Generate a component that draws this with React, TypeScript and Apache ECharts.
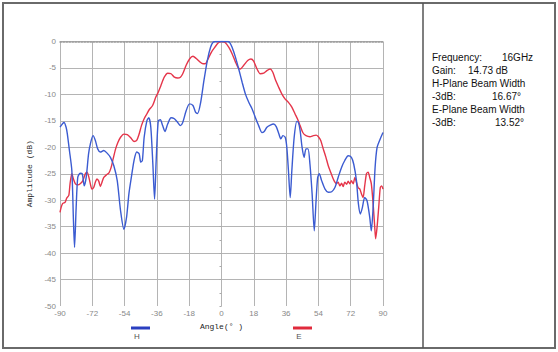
import React, { useEffect, useRef } from "react";
import * as echarts from "echarts";

const xTicks = [-90, -72, -54, -36, -18, 0, 18, 36, 54, 72, 90];

const hAngles = [
  -90, -88.5, -87.75, -86.6, -85.9, -84.75, -83.4, -82.5, -81.9, -81, -80.1, -78.75, -77.6, -76.5, -75.4,
  -74.1, -73.1, -71.6, -70.3, -69, -67.5, -65.6, -63.75, -61.9, -60, -58.1, -56.25, -54.4, -52.9, -51.6,
  -50.25, -48.75, -47.25, -45.9, -45, -44.1, -43.1, -41.6, -40.5, -39.4, -38.25, -37.3, -36.4, -35.25,
  -34.1, -32.8, -31.5, -30, -28.1, -26.25, -24.4, -22.9, -21.6, -19.7, -17.8, -15.9, -14.4, -13.3, -11.6,
  -9.8, -7.9, -6.1, -4.6, -3, 0, 3.5, 4.6, 5.9, 7.8, 9.6, 11.5, 13.3, 15.2, 17, 18.8, 20.7, 22.5, 23.8,
  25.3, 27.2, 29, 30.5, 32, 33.1, 34.2, 35.5, 36.4, 37.3, 38.3, 39.2, 40.5, 42, 42.9, 43.8, 44.9, 46,
  47.1, 48.2, 49.3, 50.5, 51.7, 52.7, 53.6, 54.5, 55.8, 57.7, 59.5, 61.4, 63.2, 65, 66.9, 68.7, 70.6,
  72.4, 73.7, 75.2, 76.3, 77.4, 78.5, 79.8, 81.1, 82.6, 83.5, 84.5, 85.6, 86.7, 88.1, 90,
];
const hAmps = [
  -16.2, -15.5, -15.3, -16.2, -17.5, -20.6, -24.4, -33.9, -38.9, -31.4, -25.7, -24.9, -25, -27.3, -25.7,
  -21.3, -19.4, -17.8, -18.7, -20.3, -20.9, -20.6, -21.1, -21.9, -23.5, -26.3, -32, -35.5, -33.2, -28.8,
  -25.7, -22.5, -20.9, -21.2, -22.8, -22.5, -18.1, -15, -14.4, -16.2, -23.2, -29.8, -22.5, -15,
  -14.8, -15.9, -17, -15.6, -14.4, -14.6, -15.3, -15.9, -15.3, -13.1, -11.8, -12.1, -13.4, -13.6, -11.5,
  -7.4, -3.6, -1.1, -0.1, 0, 0, 0, -0.2, -1.1, -3, -5.2, -7.7, -9.9, -11.5, -12.7, -14.3, -15.9, -17.2, -17,
  -16.2, -15.8, -15.6, -16.1, -17.5, -18.4, -17.8, -18.1, -20, -24.4, -29.5, -24.4, -18.1, -15.1, -15.3, -16.8, -20, -21.9,
  -20.3, -20.3, -23.2, -28.8, -35.8, -30.1, -25.7, -25, -26.3, -27.9, -28.5, -28.4, -27.6, -25.7, -23.8, -22.5, -21.6,
  -21.9, -23.2, -26.3, -30.7, -32.6, -31.4, -29.5, -30.1, -33.2, -35.8, -31.4, -23.8, -20, -18.7, -17.2,
];

const eAngles = [
  -90, -89.4, -88.5, -87.2, -86.25, -85.1, -84.4, -83.4, -82.5, -81.4, -80.1, -78.75, -77.25, -75.9, -75,
  -74.1, -73.1, -72.2, -71.25, -70.3, -69.4, -68.4, -67.5, -66.6, -65.6, -64.1, -62.8, -61.5, -60.4, -59,
  -57.75, -56.25, -54.4, -52.5, -50.6, -48.75, -47.25, -45.9, -44.6, -43.1, -41.6, -40.3, -38.4, -36.6,
  -35.25, -33.75, -31.9, -30, -28.1, -26.25, -24.4, -22.9, -21.6, -19.7, -17.8, -15.9, -14.1, -12.2, -10.3,
  -9, -7.5, -5.6, -3.75, -1.9, 0, 2, 4.1, 5.9, 7.8, 9.2, 10.5, 12.4, 14.6, 16.4, 17.9, 19.8, 21.6, 23.5,
  25.3, 27.2, 28.6, 29.9, 31.8, 33.6, 35.5, 37.3, 39.2, 41, 42.3, 43.8, 45.3, 47.1, 49.3, 51.2, 52.7, 54,
  55.3, 56.7, 58.2, 59.5, 60.8, 62.3, 63.2, 64.1, 65, 66, 66.9, 67.8, 68.7, 69.7, 70.6, 71.5, 72.4, 73.4,
  74.3, 75.2, 76.1, 77.1, 78, 78.9, 79.8, 80.8, 81.7, 82.6, 83.5, 84.5, 85.4, 85.9, 86.7, 87.6, 88.5, 89.3, 90,
];
const eAmps = [
  -32.3, -31.4, -30.6, -30.4, -29.6, -29.1, -26.9, -25, -26, -26.9, -27.1, -26.9, -26.3, -25, -24.7,
  -25.4, -26.9, -27.9, -27.6, -26.6, -26, -26.4, -27.4, -26.6, -25.7, -25.2, -24.9, -23.8, -22.2, -20.3,
  -19.1, -18.1, -17.5, -17.6, -18.2, -18.9, -18.7, -17.5, -15.9, -14.6, -13.7, -12.9, -12.1, -10.5,
  -9.6, -8.3, -6.75, -6, -6.1, -6.75, -6.9, -6.75, -6.1, -4.5, -3.3, -2.8, -3.2, -3.8, -4.2,
  -4.2, -3.3, -2, -1.1, -0.3, 0, -0.2, -1.1, -2.3, -3.9, -4.9, -5.2, -4.5, -3.6, -3.3, -3.7, -5.2, -6.1, -6,
  -5.5, -5.2, -5.8, -7.1, -8.6, -9.9, -10.9, -11.5, -12.4, -13.7, -14.6, -15.9, -17.2, -17.8, -18, -17.8, -17.7, -18,
  -18.7, -20.3, -21.9, -23.5, -24.7, -26, -26.6, -26.9, -26.6, -27.3, -26.8, -27.4, -26.6, -27, -26.4, -26.9, -26.3, -26.9,
  -25.7, -26.6, -27.6, -27.9, -28.8, -29.5, -27.3, -25, -24.7, -25.7, -26.9, -30.7, -35.1, -37.3, -35.1, -31.4, -27.6, -27.3, -27.9,
];

const infoLines = [
  ["Frequency:", "16GHz"],
  ["Gain:", "14.73 dB"],
  ["H-Plane Beam Width", ""],
  ["-3dB:", "16.67°"],
  ["E-Plane Beam Width", ""],
  ["-3dB:", "13.52°"],
];
const infoValueX = [502, 468, 0, 492, 0, 495];

const H_COLOR = "#3b5bd1";
const E_COLOR = "#e5354a";

export default function App() {
  const ref = useRef<HTMLDivElement>(null);
  useEffect(() => {
    if (!ref.current) return;
    const chart = echarts.init(ref.current, null, { renderer: "svg" });
    const hData = hAngles.map((a, i) => [a, hAmps[i]]);
    const eData = eAngles.map((a, i) => [a, eAmps[i]]);

    const infoGraphics: any[] = [];
    infoLines.forEach((ln, i) => {
      const y = 57 + i * 13;
      infoGraphics.push({
        type: "text",
        x: 432,
        y,
        style: { text: ln[0], fontSize: 10, fontFamily: "Liberation Sans, Arial", fill: "#111", verticalAlign: "middle" },
      });
      if (ln[1]) {
        infoGraphics.push({
          type: "text",
          x: infoValueX[i],
          y,
          style: { text: ln[1], fontSize: 10, fontFamily: "Liberation Sans, Arial", fill: "#111", verticalAlign: "middle" },
        });
      }
    });

    chart.setOption({
      animation: false,
      backgroundColor: "#ffffff",
      grid: { left: 60, right: 175, top: 41.5, bottom: 46 },
      xAxis: {
        type: "value",
        min: -90,
        max: 90,
        interval: 18,
        name: "Angle(° )",
        nameLocation: "middle",
        nameGap: 16,
        nameTextStyle: { fontFamily: "Liberation Mono, monospace", fontSize: 8, color: "#222" },
        axisLine: { show: true, lineStyle: { color: "#999", type: "dotted", width: 1.5 } },
        axisTick: { show: false },
        minorTick: { show: false },
        axisLabel: { fontSize: 8, color: "#888", fontFamily: "Liberation Sans, Arial", margin: 3 },
        splitLine: { show: true, lineStyle: { color: "#b4b4b4", width: 1 } },
      },
      yAxis: {
        type: "value",
        min: -50,
        max: 0,
        interval: 5,
        name: "Amplitude (dB)",
        nameLocation: "middle",
        nameGap: 20,
        nameTextStyle: { fontFamily: "Liberation Mono, monospace", fontSize: 8, color: "#222" },
        axisLine: { show: true, lineStyle: { color: "#b4b4b4" } },
        axisTick: { show: true, length: 2, lineStyle: { color: "#aaa" } },
        minorTick: { show: true, splitNumber: 2, length: 2, lineStyle: { color: "#aaa" } },
        axisLabel: { fontSize: 8, color: "#888", fontFamily: "Liberation Sans, Arial", margin: 4 },
        splitLine: { show: true, showMinLine: false, lineStyle: { color: "#b4b4b4", width: 1 } },
      },
      series: [
        {
          name: "H",
          type: "line",
          data: hData,
          showSymbol: false,
          smooth: 0.25,
          lineStyle: { color: H_COLOR, width: 1.4 },
          z: 3,
        },
        {
          name: "E",
          type: "line",
          data: eData,
          showSymbol: false,
          smooth: 0.25,
          lineStyle: { color: E_COLOR, width: 1.4 },
          z: 2,
        },
      ],
      graphic: [
        { type: "rect", shape: { x: 3, y: 3, width: 552, height: 345 }, style: { fill: "none", stroke: "#6a6a6a", lineWidth: 2 }, silent: true },
        { type: "line", shape: { x1: 423, y1: 3, x2: 423, y2: 348 }, style: { stroke: "#555", lineWidth: 1.5 }, silent: true },
        { type: "line", shape: { x1: 131, y1: 328, x2: 150, y2: 328 }, style: { stroke: "#2a3fc0", lineWidth: 3 } },
        { type: "text", x: 137, y: 336, style: { text: "H", fontSize: 8, fill: "#555", fontFamily: "Liberation Sans, Arial", verticalAlign: "middle", align: "center" } },
        { type: "line", shape: { x1: 293, y1: 328, x2: 312, y2: 328 }, style: { stroke: "#e02a3c", lineWidth: 3 } },
        { type: "text", x: 299, y: 336, style: { text: "E", fontSize: 8, fill: "#555", fontFamily: "Liberation Sans, Arial", verticalAlign: "middle", align: "center" } },
        ...infoGraphics,
      ],
    });
    return () => chart.dispose();
  }, []);
  return <div ref={ref} style={{ position: "absolute", left: 0, top: 0, width: 558, height: 352 }} />;
}
